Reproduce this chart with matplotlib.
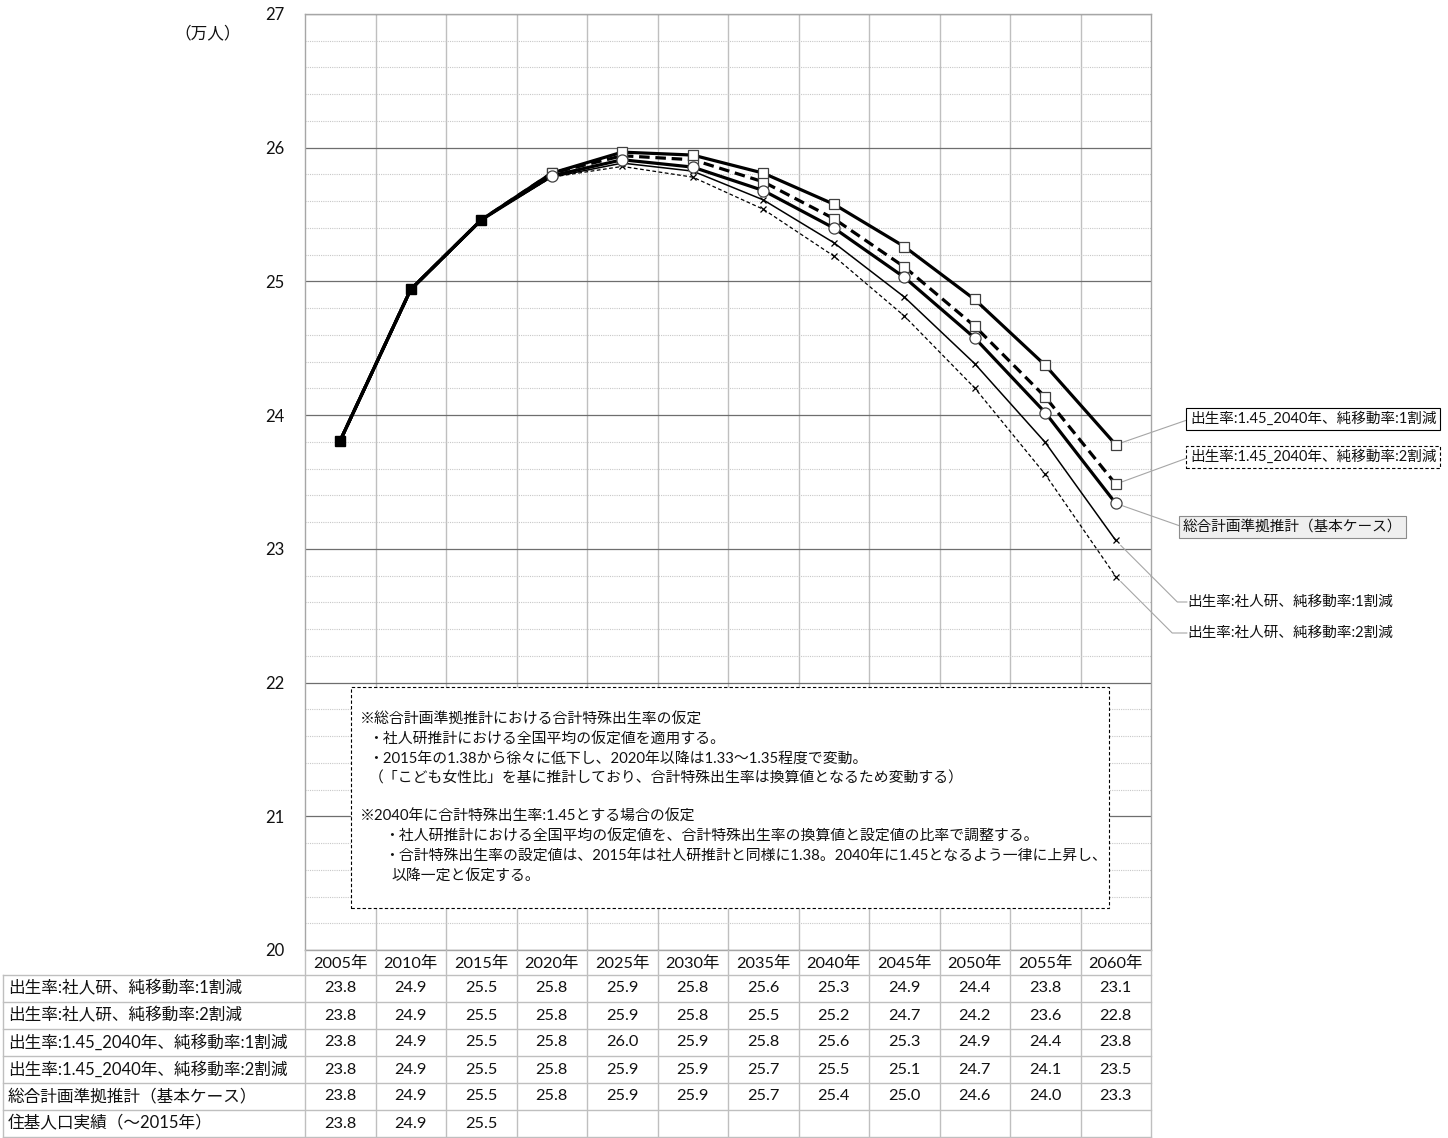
import matplotlib
matplotlib.use("Agg")
import matplotlib.pyplot as plt
from matplotlib.patches import Rectangle
from matplotlib.ticker import MultipleLocator
import numpy as np

plt.rcParams["font.family"] = ["Lato", "Noto Sans CJK JP", "DejaVu Sans"]

# ---- data (万人) ----
years = ["2005年", "2010年", "2015年", "2020年", "2025年", "2030年",
         "2035年", "2040年", "2045年", "2050年", "2055年", "2060年"]

ipss_mig10 = [23.81, 24.94, 25.46, 25.78, 25.885, 25.825, 25.61, 25.29, 24.884, 24.385, 23.796, 23.063]
ipss_mig20 = [23.81, 24.94, 25.46, 25.78, 25.86, 25.78, 25.54, 25.19, 24.742, 24.203, 23.557, 22.793]
tfr145_mig10 = [23.81, 24.94, 25.46, 25.81, 25.967, 25.945, 25.81, 25.578, 25.261, 24.865, 24.373, 23.779]
tfr145_mig20 = [23.81, 24.94, 25.46, 25.81, 25.94, 25.91, 25.745, 25.47, 25.109, 24.665, 24.136, 23.484]
base_case = [23.81, 24.94, 25.46, 25.79, 25.91, 25.855, 25.68, 25.40, 25.031, 24.577, 24.019, 23.34]
registry_actual = [23.81, 24.94, 25.46]

label_ipss10 = "出生率:社人研、純移動率:1割減"
label_ipss20 = "出生率:社人研、純移動率:2割減"
label_t10 = "出生率:1.45_2040年、純移動率:1割減"
label_t20 = "出生率:1.45_2040年、純移動率:2割減"
label_base = "総合計画準拠推計（基本ケース）"
label_actual = "住基人口実績（～2015年）"

note_lines = [
    "※総合計画準拠推計における合計特殊出生率の仮定",
    "・社人研推計における全国平均の仮定値を適用する。",
    "・2015年の1.38から徐々に低下し、2020年以降は1.33～1.35程度で変動。",
    "（「こども女性比」を基に推計しており、合計特殊出生率は換算値となるため変動する）",
    "※2040年に合計特殊出生率:1.45とする場合の仮定",
    "・社人研推計における全国平均の仮定値を、合計特殊出生率の換算値と設定値の比率で調整する。",
    "・合計特殊出生率の設定値は、2015年は社人研推計と同様に1.38。2040年に1.45となるよう一律に上昇し、",
    "以降一定と仮定する。",
]

# ---- layout helpers (pixel -> figure fraction) ----
W, H = 1448, 1138
fig = plt.figure(figsize=(W / 100, H / 100), dpi=100)


def fx(px):
    return px / W


def fy(py):
    return 1 - py / H


GRID = "#bfbfbf"
MAJ = "#6e6e6e"
TXT = "#111111"

ax = fig.add_axes([fx(305), fy(950), (1151 - 305) / W, (950 - 14) / H])
x = np.arange(len(years)) + 0.5
ax.set_xlim(0, len(years))
ax.set_ylim(20, 27)

ax.set_xticks(np.arange(1, len(years)))
ax.set_xticklabels([])
ax.tick_params(axis="x", length=0)
ax.set_yticks(np.arange(20, 28))
ax.yaxis.set_minor_locator(MultipleLocator(0.2))
ax.tick_params(axis="y", which="both", length=0, pad=15, labelsize=12, labelcolor=TXT)
ax.grid(axis="x", color=GRID, lw=1.0)
ax.grid(axis="y", which="major", color=MAJ, lw=0.9)
ax.grid(axis="y", which="minor", color="#c8c8c8", lw=0.8, ls=(0, (1, 1)))
ax.set_axisbelow(True)
for s in ax.spines.values():
    s.set_color("#a6a6a6")
    s.set_linewidth(1.0)
    s.set_zorder(2.6)

mk_every = slice(3, None)
ax.plot(x, ipss_mig20, color="black", lw=0.9, ls=(0, (3, 2)), marker="x", ms=5,
        mew=0.9, markevery=mk_every, zorder=3)
ax.plot(x, ipss_mig10, color="black", lw=1.1, marker="x", ms=5, mew=0.9,
        markevery=mk_every, zorder=3.1)
ax.plot(x, tfr145_mig20, color="black", lw=2.3, ls=(0, (3.3, 1.8)), marker="s", ms=7.5,
        mfc="white", mec="#404040", mew=0.9, markevery=mk_every, zorder=3.2)
ax.plot(x, tfr145_mig10, color="black", lw=2.3, marker="s", ms=7.5, mfc="white",
        mec="#404040", mew=0.9, markevery=mk_every, zorder=3.3)
ax.plot(x, base_case, color="black", lw=2.3, marker="o", ms=8, mfc="white",
        mec="#404040", mew=0.9, markevery=mk_every, zorder=3.4)
ax.plot(x[:len(registry_actual)], registry_actual, color="black", lw=2.3, marker="s",
        ms=7.5, mfc="black", mec="black", zorder=3.5)

# unit label
fig.text(fx(174), fy(33), "（万人）", fontsize=12, ha="left", va="center", color=TXT)

# ---- series callouts at the 2060 end ----
CFS = 10.5
lead = dict(arrowstyle="-", color="#a6a6a6", lw=0.8, shrinkA=0, shrinkB=5, relpos=(0, 0.5))
ax.annotate(label_t10, xy=(x[-1], tfr145_mig10[-1]), xytext=(fx(1190), fy(419)),
            textcoords="figure fraction", ha="left", va="center", fontsize=CFS, color=TXT,
            bbox=dict(boxstyle="square,pad=0.25", fc="white", ec="black", lw=0.8),
            arrowprops=lead, annotation_clip=False)
ax.annotate(label_t20, xy=(x[-1], tfr145_mig20[-1]), xytext=(fx(1190), fy(457)),
            textcoords="figure fraction", ha="left", va="center", fontsize=CFS, color=TXT,
            bbox=dict(boxstyle="square,pad=0.25", fc="white", ec="black", lw=0.8,
                      ls=(0, (3, 2))),
            arrowprops=lead, annotation_clip=False)
ax.annotate(label_base, xy=(x[-1], base_case[-1]), xytext=(fx(1183), fy(527)),
            textcoords="figure fraction", ha="left", va="center", fontsize=CFS, color=TXT,
            bbox=dict(boxstyle="square,pad=0.25", fc="#efefef", ec="#8c8c8c", lw=0.8),
            arrowprops=lead, annotation_clip=False)
lead_k = dict(lead, connectionstyle="angle,angleA=0,angleB=-45,rad=0", patchA=None)
ax.annotate(label_ipss10, xy=(x[-1], ipss_mig10[-1]), xytext=(fx(1187), fy(602)),
            textcoords="figure fraction", ha="left", va="center", fontsize=CFS, color=TXT,
            arrowprops=lead_k, annotation_clip=False)
ax.annotate(label_ipss20, xy=(x[-1], ipss_mig20[-1]), xytext=(fx(1187), fy(633)),
            textcoords="figure fraction", ha="left", va="center", fontsize=CFS, color=TXT,
            arrowprops=lead_k, annotation_clip=False)

# ---- note box ----
fig.add_artist(Rectangle((fx(351), fy(908)), (1109 - 351) / W, (908 - 687) / H,
                         transform=fig.transFigure, fc="white", ec="black", lw=0.8,
                         ls=(0, (3, 2)), zorder=5))
note_pos = [(360, 720), (368, 740), (368, 760), (369, 779),
            (360, 817), (384, 837), (384, 857), (391, 877)]
for (px, py), s in zip(note_pos, note_lines):
    fig.text(fx(px), fy(py), s, fontsize=10.7, ha="left", va="center", zorder=6, color=TXT)

# ---- data table below the plot ----
col_px = (1151 - 305) / len(years)
axt = fig.add_axes([fx(3), 0, (1151 - 3) / W, 188 / H])
xl = -(305 - 3) / col_px
axt.set_xlim(xl, len(years))
axt.set_ylim(188, 0)
axt.axis("off")

row_h = 27
head_h = 25
tcol = "#bfbfbf"
for i in range(len(years) + 1):
    axt.plot([i, i], [0, 188], color=tcol, lw=1.0, clip_on=False)
axt.plot([xl, xl], [head_h, 188], color=tcol, lw=1.0, clip_on=False)
for k in range(7):
    yk = head_h + row_h * k
    axt.plot([xl, len(years)], [yk, yk], color=tcol, lw=1.0, clip_on=False)

for i, yr in enumerate(years):
    axt.text(i + 0.5, head_h / 2 + 0.5, yr, ha="center", va="center", fontsize=11.8, color=TXT)

table_rows = [
    (label_ipss10, ipss_mig10),
    (label_ipss20, ipss_mig20),
    (label_t10, tfr145_mig10),
    (label_t20, tfr145_mig20),
    (label_base, base_case),
    (label_actual, registry_actual),
]
for k, (lab, vals) in enumerate(table_rows):
    yc = head_h + row_h * k + row_h / 2
    axt.text(xl + 5 / col_px, yc, lab, ha="left", va="center", fontsize=12, color=TXT)
    for i, v in enumerate(vals):
        axt.text(i + 0.5, yc, f"{v:.1f}", ha="center", va="center", fontsize=11.8, color=TXT)

fig.savefig("out.png", dpi=100)
